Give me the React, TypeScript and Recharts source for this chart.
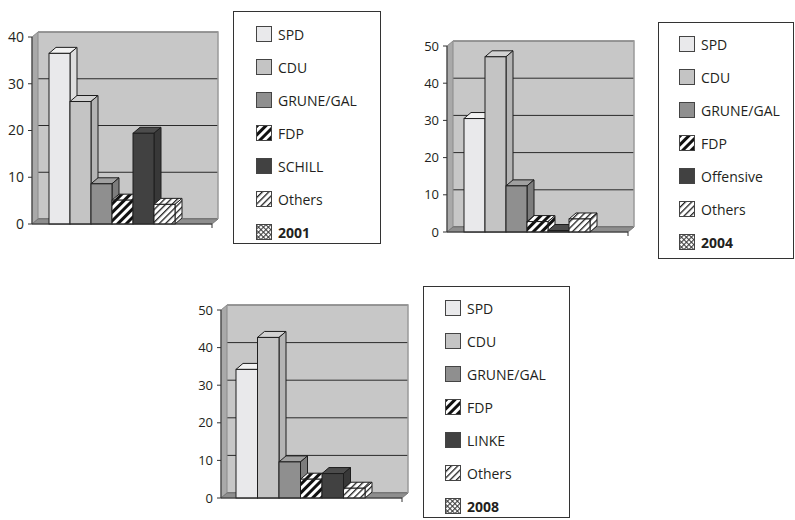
import React from 'react';
import { BarChart, Bar, XAxis, YAxis, CartesianGrid } from 'recharts';

// election results per year (percent), last entry is the empty "year" series
const names2001 = ['SPD', 'CDU', 'GRUNE/GAL', 'FDP', 'SCHILL', 'Others', '2001'];
const values2001 = [36.5, 26.2, 8.6, 5.1, 19.4, 4.2, 0];

const names2004 = ['SPD', 'CDU', 'GRUNE/GAL', 'FDP', 'Offensive', 'Others', '2004'];
const values2004 = [30.5, 47.1, 12.4, 2.8, 0.4, 3.5, 0];

const names2008 = ['SPD', 'CDU', 'GRUNE/GAL', 'FDP', 'LINKE', 'Others', '2008'];
const values2008 = [34.2, 42.7, 9.6, 5.0, 6.5, 2.6, 0];

const ticks40 = [0, 10, 20, 30, 40];
const ticks50 = [0, 10, 20, 30, 40, 50];

// face colours: front, top, side
const faces = [
  ['#e9e9eb', '#f2f2f2', '#dedede'],
  ['#c4c4c4', '#d2d2d2', '#b4b4b4'],
  ['#8f8f8f', '#a0a0a0', '#7c7c7c'],
  ['url(#stripeThick)', 'url(#stripeThick)', 'url(#stripeThick)'],
  ['#414141', '#4c4c4c', '#383838'],
  ['url(#stripeThin)', 'url(#stripeThin)', 'url(#stripeThin)'],
  ['url(#crossHatch)', 'url(#crossHatch)', 'url(#crossHatch)'],
];

const FONT = '"Open Sans", sans-serif';
const INK = '#231f20';
const WALL_DX = 6;
const WALL_DY = 5;
const BAR_DX = 7;
const BAR_DY = 6;

const Box3D = (props: any) => {
  const { x, y, width, height, idx } = props;
  if (!height || height <= 0) return <g />;
  const [front, top, side] = faces[idx];
  return (
    <g stroke="#1e1e1e" strokeWidth={1}>
      <polygon
        points={`${x},${y} ${x + BAR_DX},${y - BAR_DY} ${x + width + BAR_DX},${y - BAR_DY} ${x + width},${y}`}
        fill={top}
      />
      <polygon
        points={`${x + width},${y} ${x + width + BAR_DX},${y - BAR_DY} ${x + width + BAR_DX},${y + height - BAR_DY} ${x + width},${y + height}`}
        fill={side}
      />
      <rect x={x} y={y} width={width} height={height} fill={front} />
    </g>
  );
};

// left wall + floor of the 3d box
const Frame = ({ left, top, right, bottom }: any) => (
  <g>
    <polygon
      points={`${left},${bottom} ${left},${top} ${left + WALL_DX},${top - WALL_DY} ${left + WALL_DX},${bottom - WALL_DY}`}
      fill="#a9a9a9"
      stroke="#8a8a8a"
    />
    <polygon
      points={`${left},${bottom} ${right},${bottom} ${right + WALL_DX},${bottom - WALL_DY} ${left + WALL_DX},${bottom - WALL_DY}`}
      fill="#8e8e8e"
      stroke="#777"
    />
    <polyline
      points={`${left + WALL_DX},${top - WALL_DY} ${right + WALL_DX},${top - WALL_DY} ${right + WALL_DX},${bottom - WALL_DY}`}
      fill="none"
      stroke="#9a9a9a"
      strokeWidth={1.5}
    />
    <line x1={right} y1={bottom} x2={right} y2={bottom + 4} stroke="#333" />
  </g>
);

type ChartProps = {
  names: string[];
  values: number[];
  ticks: number[];
  left: number;
  top: number;
  width: number;
  height: number;
  marginTop: number;
  marginRight: number;
  xHeight: number;
  barSize: number;
  fontSize: number;
};

const Chart3D = (p: ChartProps) => {
  const yWidth = 32;
  const row: any = { year: p.names[p.names.length - 1] };
  p.values.forEach((v, i) => (row['s' + i] = v));
  const data = [row];
  const plotLeft = yWidth;
  const plotRight = p.width - p.marginRight;
  const plotTop = p.marginTop;
  const plotBottom = p.height - p.xHeight;
  return (
    <div className="chart3d" style={{ position: 'absolute', left: p.left, top: p.top }}>
      <BarChart
        width={p.width}
        height={p.height}
        data={data}
        margin={{ top: p.marginTop, right: p.marginRight, bottom: 0, left: 0 }}
        barGap={0}
        barSize={p.barSize}
      >
        <CartesianGrid vertical={false} fill="#c7c7c7" fillOpacity={1} stroke="#2a2a2a" />
        <Frame left={plotLeft} top={plotTop} right={plotRight} bottom={plotBottom} />
        <XAxis dataKey="year" tick={false} tickLine={false} height={p.xHeight} axisLine={{ stroke: '#333' }} />
        <YAxis
          width={yWidth}
          domain={[0, p.ticks[p.ticks.length - 1]]}
          ticks={p.ticks}
          interval={0}
          tickSize={4}
          tickMargin={4}
          axisLine={{ stroke: '#333' }}
          tickLine={{ stroke: '#333' }}
          tick={{ fontSize: p.fontSize, fill: INK, fontFamily: FONT }}
        />
        {p.names.map((n, i) => (
          <Bar
            key={n}
            dataKey={'s' + i}
            name={n}
            isAnimationActive={false}
            shape={(sp: any) => <Box3D {...sp} idx={i} />}
          />
        ))}
      </BarChart>
    </div>
  );
};

type LegendProps = {
  names: string[];
  left: number;
  top: number;
  width: number;
  height: number;
  first: number;
  step: number;
  swatchLeft: number;
};

const LegendBox = (p: LegendProps) => (
  <div
    style={{
      position: 'absolute',
      left: p.left,
      top: p.top,
      width: p.width,
      height: p.height,
      border: '1px solid #333',
      boxSizing: 'border-box',
      fontFamily: FONT,
      fontSize: 14,
      color: INK,
    }}
  >
    {p.names.map((n, i) => (
      <div
        key={n}
        style={{
          position: 'absolute',
          left: p.swatchLeft,
          top: p.first + i * p.step - 10,
          height: 20,
          display: 'flex',
          alignItems: 'center',
          whiteSpace: 'nowrap',
          fontWeight: i === p.names.length - 1 ? 700 : 400,
        }}
      >
        <svg width={16} height={16} style={{ marginRight: 6 }}>
          <rect x={0.5} y={0.5} width={15} height={15} fill={faces[i][0]} stroke="#444" />
        </svg>
        {n}
      </div>
    ))}
  </div>
);

export default function App() {
  return (
    <div style={{ position: 'absolute', left: 0, top: 0, width: 795, height: 520, background: '#fff', overflow: 'hidden' }}>
      <style>{`.chart3d .recharts-cartesian-grid { transform: translate(${WALL_DX}px, -${WALL_DY}px); }`}</style>
      <svg width={0} height={0} style={{ position: 'absolute' }}>
        <defs>
          <pattern id="stripeThick" width={6} height={6} patternUnits="userSpaceOnUse" patternTransform="rotate(45)">
            <rect width={6} height={6} fill="#fff" />
            <rect width={3} height={6} fill="#111" />
          </pattern>
          <pattern id="stripeThin" width={4.5} height={4.5} patternUnits="userSpaceOnUse" patternTransform="rotate(45)">
            <rect width={4.5} height={4.5} fill="#fff" />
            <rect width={1.3} height={4.5} fill="#222" />
          </pattern>
          <pattern id="crossHatch" width={3.5} height={3.5} patternUnits="userSpaceOnUse" patternTransform="rotate(45)">
            <rect width={3.5} height={3.5} fill="#fff" />
            <rect width={1} height={3.5} fill="#333" />
            <rect width={3.5} height={1} fill="#333" />
          </pattern>
        </defs>
      </svg>

      <Chart3D names={names2001} values={values2001} ticks={ticks40} left={0} top={0} width={230} height={240}
        marginTop={37} marginRight={18} xHeight={16} barSize={21} fontSize={14} />
      <LegendBox names={names2001} left={233} top={11} width={148} height={233} first={22} step={33} swatchLeft={22} />

      <Chart3D names={names2004} values={values2004} ticks={ticks50} left={415} top={0} width={230} height={250}
        marginTop={46} marginRight={17} xHeight={18} barSize={21} fontSize={13} />
      <LegendBox names={names2004} left={658} top={22} width={136} height={237} first={21} step={33} swatchLeft={20} />

      <Chart3D names={names2008} values={values2008} ticks={ticks50} left={189} top={280} width={230} height={240}
        marginTop={30} marginRight={17} xHeight={22} barSize={21.5} fontSize={13} />
      <LegendBox names={names2008} left={423} top={286} width={147} height={232} first={21} step={33} swatchLeft={21} />
    </div>
  );
}
